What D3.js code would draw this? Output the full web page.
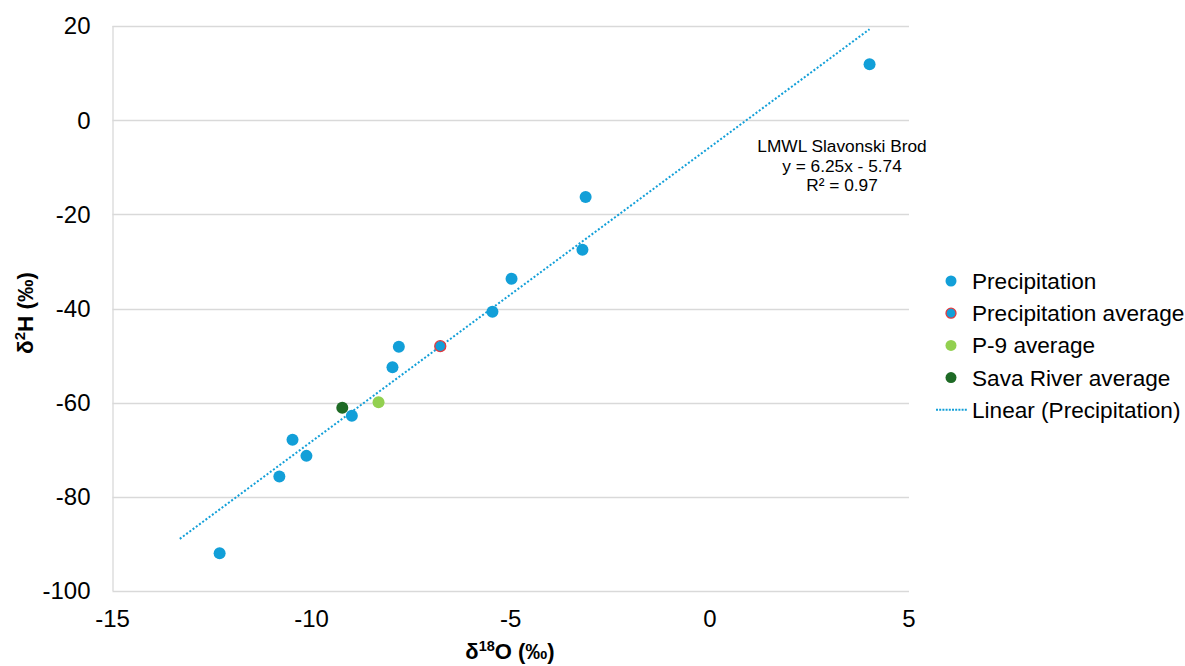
<!DOCTYPE html>
<html>
<head>
<meta charset="utf-8">
<script src="https://cdn.jsdelivr.net/npm/d3@7"></script>
<style>
  body { margin: 0; background: #fff; }
  svg text { font-family: "Liberation Sans", Arial, sans-serif; fill: #000; }
</style>
</head>
<body>
<div class="container"></div>
<script>
// data (δ18O, δ2H)
var precip_x = [-12.31, -10.81, -10.48, -10.13, -8.99, -7.97, -7.81, -5.46, -4.98, -3.20, -3.12, 4.01];
var precip_y = [-92.0, -75.7, -67.9, -71.3, -62.8, -52.5, -48.1, -40.7, -33.7, -27.5, -16.3, 11.9];
var precip_avg = [-6.77, -48.0];
var p9_avg = [-8.32, -59.9];
var sava_avg = [-9.23, -61.1];
var trend_slope = 6.25, trend_icept = -5.74;
var trend_range = [-13.31, 4.01];
var x_ticks = [-15, -10, -5, 0, 5];
var y_ticks = [-100, -80, -60, -40, -20, 0, 20];
var legend_names = ["Precipitation", "Precipitation average", "P-9 average", "Sava River average", "Linear (Precipitation)"];
var eq_lines = ["LMWL Slavonski Brod", "y = 6.25x - 5.74", "R\u00b2 = 0.97"];

var blue = "#129fd8", light_green = "#92d050", dark_green = "#1e6a25", red = "#e03a3e";

var margin = {top: 26, left: 112.5},
    width = 909 - 112.5,
    height = 591 - 26;

var x_scale = d3.scaleLinear().domain([-15, 5]).range([0, width]);
var y_scale = d3.scaleLinear().domain([-100, 20]).range([height, 0]);

var svg = d3.select("div.container").append("svg")
    .attr("width", 1185)
    .attr("height", 666);

var g = svg.append("g")
    .attr("transform", "translate(" + margin.left + "," + margin.top + ")");

// horizontal gridlines
g.selectAll("line.grid")
    .data(y_ticks)
    .enter().append("line")
    .attr("class", "grid")
    .attr("x1", 0).attr("x2", width)
    .attr("y1", function(d) { return Math.round(y_scale(d)) + 0.5; })
    .attr("y2", function(d) { return Math.round(y_scale(d)) + 0.5; })
    .attr("stroke", "#d9d9d9")
    .attr("stroke-width", 1.3);

// left axis line
g.append("line")
    .attr("x1", 0.5).attr("x2", 0.5)
    .attr("y1", 0).attr("y2", height)
    .attr("stroke", "#d9d9d9")
    .attr("stroke-width", 1.3);

// tick labels
g.selectAll("text.ytick")
    .data(y_ticks)
    .enter().append("text")
    .attr("class", "ytick")
    .attr("x", -22)
    .attr("y", function(d) { return y_scale(d); })
    .attr("dy", "0.35em")
    .attr("text-anchor", "end")
    .style("font-size", "24px")
    .text(function(d) { return d; });

g.selectAll("text.xtick")
    .data(x_ticks)
    .enter().append("text")
    .attr("class", "xtick")
    .attr("x", function(d) { return x_scale(d); })
    .attr("y", height + 36)
    .attr("text-anchor", "middle")
    .style("font-size", "24px")
    .text(function(d) { return d; });

// axis titles
var xt = svg.append("text")
    .attr("x", 510)
    .attr("y", 659)
    .attr("text-anchor", "middle")
    .style("font-size", "22px")
    .style("font-weight", "bold");
xt.append("tspan").text("\u03b4");
xt.append("tspan").attr("dy", -8).style("font-size", "14.5px").text("18");
xt.append("tspan").attr("dy", 8).text("O (\u2030)");

var yt = svg.append("text")
    .attr("transform", "translate(33,313) rotate(-90)")
    .attr("text-anchor", "middle")
    .style("font-size", "22.5px")
    .style("font-weight", "bold");
yt.append("tspan").text("\u03b4");
yt.append("tspan").attr("dy", -8).style("font-size", "15px").text("2");
yt.append("tspan").attr("dy", 8).text("H (\u2030)");

// trendline
var trend = trend_range.map(function(x) { return [x, trend_slope * x + trend_icept]; });
var line = d3.line()
    .x(function(d) { return x_scale(d[0]); })
    .y(function(d) { return y_scale(d[1]); });

g.append("path")
    .datum(trend)
    .attr("fill", "none")
    .attr("stroke", blue)
    .attr("stroke-width", 2)
    .attr("stroke-dasharray", "2,2")
    .attr("d", line);

var plot_circle = function (coords, color, stroke) {
  g.append("circle")
      .attr("cx", x_scale(coords[0]))
      .attr("cy", y_scale(coords[1]))
      .attr("r", stroke ? 5.5 : 6)
      .attr("fill", color)
      .attr("stroke", stroke || "none")
      .attr("stroke-width", stroke ? 1.3 : 0);
};

precip_x.forEach(function(x, i) { plot_circle([x, precip_y[i]], blue); });
plot_circle(precip_avg, blue, red);
plot_circle(p9_avg, light_green);
plot_circle(sava_avg, dark_green);

// equation label
svg.selectAll("text.eq")
    .data(eq_lines)
    .enter().append("text")
    .attr("class", "eq")
    .attr("x", 842)
    .attr("y", function(d, i) { return 152 + i * 19.5; })
    .attr("text-anchor", "middle")
    .style("font-size", "17.3px")
    .text(function(d) { return d; });

// legend
var leg = svg.selectAll("g.leg")
    .data(legend_names)
    .enter().append("g")
    .attr("class", "leg")
    .attr("transform", function(d, i) { return "translate(951," + (281 + i * 32.2) + ")"; });

var leg_fill = [blue, blue, light_green, dark_green];
leg.each(function(d, i) {
  var s = d3.select(this);
  if (i < 4) {
    s.append("circle")
        .attr("r", i == 1 ? 5 : 5.5)
        .attr("fill", leg_fill[i])
        .attr("stroke", i == 1 ? red : "none")
        .attr("stroke-width", 1.3);
  } else {
    s.append("line")
        .attr("x1", -15).attr("x2", 16)
        .attr("stroke", blue)
        .attr("stroke-width", 2)
        .attr("stroke-dasharray", "2,1.2");
  }
  s.append("text")
      .attr("x", 21)
      .attr("dy", "0.35em")
      .style("font-size", "22.6px")
      .text(d);
});
</script>
</body>
</html>
